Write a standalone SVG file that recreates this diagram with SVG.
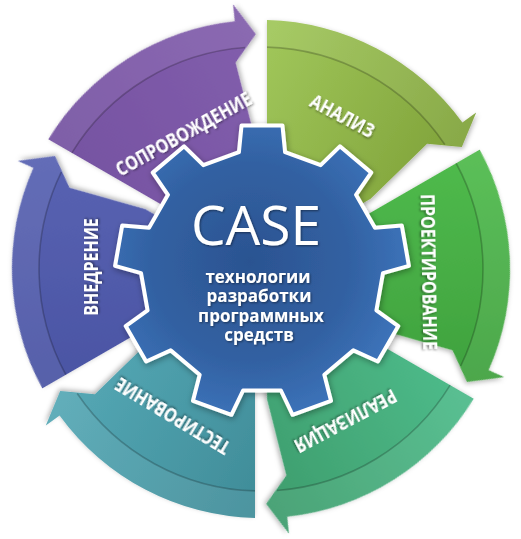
<svg xmlns="http://www.w3.org/2000/svg" width="521" height="539" viewBox="0 0 521 539">
<defs>
<style>
.lbl{font-family:"Open Sans","DejaVu Sans",sans-serif;font-weight:700;font-size:16px;fill:#fff;text-anchor:middle;dominant-baseline:central}
.band{fill:#fff;fill-opacity:.07}
.line{fill:none;stroke:#000;stroke-opacity:.22;stroke-width:1.6}
.sub{font-family:"Open Sans","DejaVu Sans",sans-serif;font-weight:700;font-size:17px;fill:#fff;text-anchor:middle}
.big{font-family:"Open Sans","DejaVu Sans",sans-serif;font-weight:400;font-size:55px;fill:#fff;text-anchor:middle}
</style>
<filter id="sh" x="-20%" y="-20%" width="140%" height="140%"><feDropShadow dx="1" dy="2" stdDeviation="2.5" flood-color="#000" flood-opacity=".3"/></filter>
<filter id="gsh" x="-20%" y="-20%" width="140%" height="140%"><feDropShadow dx="1" dy="2" stdDeviation="3" flood-color="#000" flood-opacity=".35"/></filter>
<filter id="tsh" x="-10%" y="-30%" width="120%" height="160%"><feDropShadow dx="1" dy="1" stdDeviation="1" flood-color="#000" flood-opacity=".45"/></filter>
<path id="segBody" d="M267,169 L267,20.07 A249,249 0 0 1 462.4,122.6 L476.2,112.6 L461.8,146.9 L427.1,143.8 L370.6,198.8 L344.6,213.8 Z"/>
<path id="segBand" d="M267,47.1 L267,20.07 A249,249 0 0 1 462.4,122.6 L476.2,112.6 L461.8,146.9 L444.8,144.5 A222,222 0 0 0 267,47.1 Z"/>
<path id="segLine" d="M267,47.1 A222,222 0 0 1 444.8,144.5"/>
<linearGradient id="gA" gradientUnits="userSpaceOnUse" x1="267" y1="40" x2="460" y2="150"><stop offset="0" stop-color="#a0c65a"/><stop offset="1" stop-color="#80a33a"/></linearGradient>
<linearGradient id="gP" gradientUnits="userSpaceOnUse" x1="267" y1="40" x2="460" y2="150"><stop offset="0" stop-color="#4fba4c"/><stop offset="1" stop-color="#3fa13e"/></linearGradient>
<linearGradient id="gR" gradientUnits="userSpaceOnUse" x1="267" y1="40" x2="460" y2="150"><stop offset="0" stop-color="#4dba89"/><stop offset="1" stop-color="#3e9d6d"/></linearGradient>
<linearGradient id="gT" gradientUnits="userSpaceOnUse" x1="267" y1="40" x2="460" y2="150"><stop offset="0" stop-color="#408d99"/><stop offset="1" stop-color="#55a8b5"/></linearGradient>
<linearGradient id="gV" gradientUnits="userSpaceOnUse" x1="267" y1="40" x2="460" y2="150"><stop offset="0" stop-color="#4b55a4"/><stop offset="1" stop-color="#5862b2"/></linearGradient>
<linearGradient id="gS" gradientUnits="userSpaceOnUse" x1="267" y1="40" x2="460" y2="150"><stop offset="0" stop-color="#7653a2"/><stop offset="1" stop-color="#825eac"/></linearGradient>
<radialGradient id="gearG" gradientUnits="userSpaceOnUse" cx="250" cy="262" r="165"><stop offset="0" stop-color="#2b5391"/><stop offset=".6" stop-color="#3261a2"/><stop offset="1" stop-color="#3d74bb"/></radialGradient>
</defs>
<rect width="521" height="539" fill="#fff"/>

<g id="analiz">
<g transform="rotate(0 261 269)"><use href="#segBody" fill="url(#gA)" filter="url(#sh)"/><use href="#segBand" class="band"/><use href="#segLine" class="line"/></g>
<text class="lbl" filter="url(#tsh)" transform="translate(343 115) rotate(28) scale(1 1.25)">АНАЛИЗ</text>
</g>
<g id="proektirovanie">
<g transform="rotate(60 261 269)"><use href="#segBody" fill="url(#gP)" filter="url(#sh)"/><use href="#segBand" class="band"/><use href="#segLine" class="line"/></g>
<text class="lbl" filter="url(#tsh)" transform="translate(430 272) rotate(89) scale(1 1.25)">ПРОЕКТИРОВАНИЕ</text>
</g>
<g id="realizaciya">
<g transform="rotate(120 261 269)"><use href="#segBody" fill="url(#gR)" filter="url(#sh)"/><use href="#segBand" class="band"/><use href="#segLine" class="line"/></g>
<text class="lbl" filter="url(#tsh)" transform="translate(346 422) rotate(152) scale(1 1.25)">РЕАЛИЗАЦИЯ</text>
</g>
<g id="testirovanie">
<g transform="rotate(180 261 269)"><use href="#segBody" fill="url(#gT)" filter="url(#sh)"/><use href="#segBand" class="band"/><use href="#segLine" class="line"/></g>
<text class="lbl" filter="url(#tsh)" transform="translate(172 417) rotate(211) scale(1 1.25)">ТЕСТИРОВАНИЕ</text>
</g>
<g id="vnedrenie">
<g transform="rotate(240 261 269)"><use href="#segBody" fill="url(#gV)" filter="url(#sh)"/><use href="#segBand" class="band"/><use href="#segLine" class="line"/></g>
<text class="lbl" filter="url(#tsh)" transform="translate(90 267) rotate(-90) scale(1 1.25)">ВНЕДРЕНИЕ</text>
</g>
<g id="soprovozhdenie">
<g transform="rotate(300 261 269)"><use href="#segBody" fill="url(#gS)" filter="url(#sh)"/><use href="#segBand" class="band"/><use href="#segLine" class="line"/></g>
<text class="lbl" filter="url(#tsh)" transform="translate(183 133) rotate(-29) scale(1 1.25)">СОПРОВОЖДЕНИЕ</text>
</g>

<g id="case">
<polygon fill="url(#gearG)" stroke="#fff" stroke-width="4" stroke-linejoin="round" filter="url(#gsh)" points="238.91,152.22 241.54,125.43 282.46,125.43 285.09,152.22 320.66,165.17 339.90,146.34 371.24,172.64 356.04,194.85 374.96,227.64 401.81,225.57 408.91,265.87 382.98,273.11 376.41,310.39 398.30,326.07 377.84,361.50 353.32,350.38 324.32,374.72 331.01,400.79 292.56,414.79 280.93,390.51 243.07,390.51 231.44,414.79 192.99,400.79 199.68,374.72 170.68,350.38 146.16,361.50 125.70,326.07 147.59,310.39 141.02,273.11 115.09,265.87 122.19,225.57 149.04,227.64 167.96,194.85 152.76,172.64 184.10,146.34 203.34,165.17"/>
<text class="big" x="256" y="245" filter="url(#tsh)">CASE</text>
<text class="sub" x="258" y="283" filter="url(#tsh)">технологии</text>
<text class="sub" x="259" y="302.3" filter="url(#tsh)">разработки</text>
<text class="sub" x="261" y="321.6" filter="url(#tsh)">программных</text>
<text class="sub" x="259" y="340.9" filter="url(#tsh)">средств</text>
</g>
</svg>
